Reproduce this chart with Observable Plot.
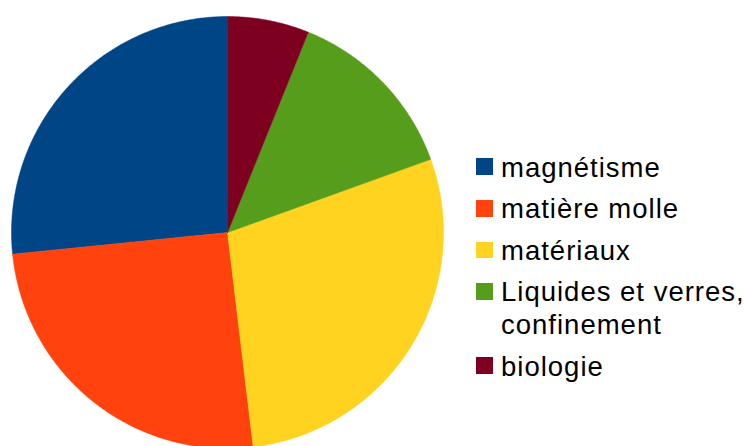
<!DOCTYPE html>
<html>
<head>
<meta charset="utf-8">
<script src="https://cdn.jsdelivr.net/npm/d3@7"></script>
<script src="https://cdn.jsdelivr.net/npm/@observablehq/plot@0.6"></script>
<style>
  html, body { margin: 0; padding: 0; background: #fff; overflow: hidden; }
  #wrap { position: relative; width: 744px; height: 446px; }
  #legend { position: absolute; left: 476px; top: 151.7px; font-family: "Liberation Sans", Arial, sans-serif; font-size: 27.5px; letter-spacing: 1px; line-height: 32.6px; color: #000; }
  .item { display: flex; align-items: flex-start; margin-bottom: 9px; }
  .sw { width: 16.5px; height: 16.5px; margin-top: 6.8px; margin-right: 8.5px; flex: none; }
  .lab { width: 262px; }
</style>
</head>
<body>
<div id="wrap"><div id="chart"></div><div id="legend"></div></div>
<script>
const categories = ["magnétisme", "matière molle", "matériaux", "Liquides et verres, confinement", "biologie"];
const values = [26.6, 25.3, 28.6, 13.4, 6.1];
const colors = ["#004586", "#ff420e", "#ffd320", "#579d1c", "#7e0021"];

// slice outlines computed from the values with d3.pie (counter-clockwise from 12 o'clock)
const arcs = d3.pie().sort(null)(values);
const pts = [];
arcs.forEach((a, i) => {
  const key = categories[i];
  pts.push({key, x: 0, y: 0});
  const n = Math.max(2, Math.ceil((a.endAngle - a.startAngle) / (2 * Math.PI) * 720));
  for (let k = 0; k <= n; k++) {
    const t = a.startAngle + (a.endAngle - a.startAngle) * k / n;
    pts.push({key, x: -Math.sin(t), y: Math.cos(t)});
  }
  pts.push({key, x: 0, y: 0});
});

const chart = Plot.plot({
  width: 744,
  height: 446,
  margin: 0,
  x: {domain: [-1, 1], range: [11, 443], axis: null},
  y: {domain: [-1, 1], range: [448, 16], axis: null},
  color: {type: "ordinal", domain: categories, range: colors},
  marks: [
    Plot.line(pts, {x: "x", y: "y", z: "key", fill: "key", stroke: "key", strokeWidth: 0.5, curve: "linear"})
  ]
});
chart.style.overflow = "visible";
document.getElementById("chart").appendChild(chart);

const legend = d3.select("#legend");
categories.forEach((c, i) => {
  const it = legend.append("div").attr("class", "item");
  it.append("div").attr("class", "sw").style("background", colors[i]);
  it.append("div").attr("class", "lab").text(c);
});
</script>
</body>
</html>
